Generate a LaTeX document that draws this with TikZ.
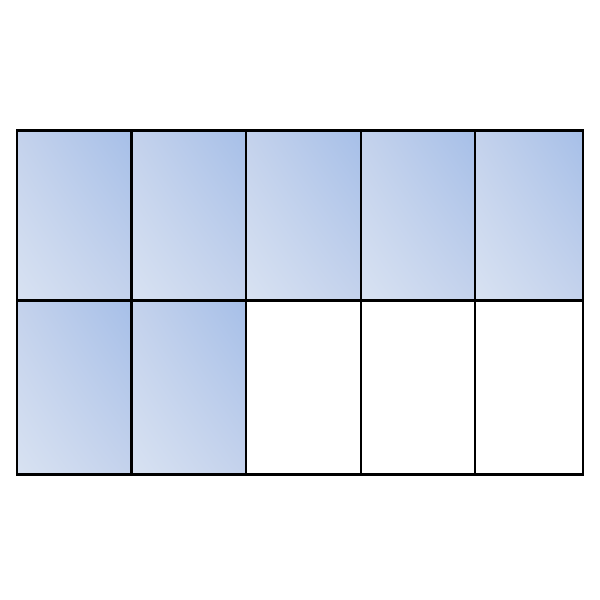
\documentclass[tikz,border=0pt]{standalone}
\usetikzlibrary{shadings}
\definecolor{cLL}{RGB}{216,226,242}
\definecolor{cMid}{RGB}{196,210,236}
\definecolor{cUR}{RGB}{166,191,232}
\begin{document}
\begin{tikzpicture}[x=0.02cm,y=-0.02cm,
  cellfill/.style={lower left=cLL, upper left=cMid,
                   lower right=cMid, upper right=cUR},
  gridline/.style={line width=1.7pt,draw=black}]
\useasboundingbox (0,0) rectangle (600,600);
\fill[white] (0,0) rectangle (600,600);
% shaded cells
\foreach \a/\b in {17/131.5,131.5/246,246/361,361/475,475/583}{
  \shade[cellfill] (\a,300) rectangle (\b,130);
}
\foreach \a/\b in {17/131.5,131.5/246}{
  \shade[cellfill] (\a,474) rectangle (\b,300);
}
% grid
\draw[gridline] (17,130) rectangle (583,474);
\draw[gridline] (17,300) -- (583,300);
\foreach \x in {131.5,246,361,475}{
  \draw[gridline] (\x,130) -- (\x,474);
}
\end{tikzpicture}
\end{document}
